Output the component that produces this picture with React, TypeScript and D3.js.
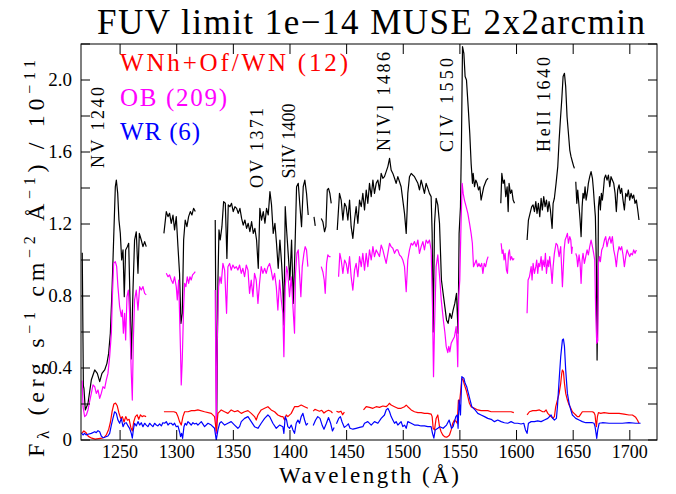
import React from "react";
import * as d3 from "d3";

type P = [number, number];

// ---------- data: [wavelength (Å), flux (1e-11 erg/s/cm2/Å)] ----------
const blackA: P[] = [[1216.6,1.04],[1217.6,0.30],[1218.1,0.287],[1219.3,0.167],[1221.7,0.204],[1224.6,0.333],[1227.6,0.389],[1229.9,0.37],[1232,0.324],[1234,0.37],[1236.4,0.389],[1238.4,0.426],[1239.9,0.481],[1241.4,0.593],[1242.9,0.833],[1244.3,1.111],[1245.8,1.407],[1246.7,1.444],[1247.9,1.37],[1249,1.222],[1250.2,1.148],[1251.4,1.0],[1252.6,1.056],[1253.7,0.796],[1254.9,1.056],[1256.4,1.074],[1257.6,1.093],[1258.7,0.796],[1259.9,0.45],[1261.4,0.833],[1262.8,1.111],[1264.3,1.157],[1265.8,0.926],[1267,1.148],[1268.7,1.111],[1270.2,1.074],[1271.7,1.102],[1273.1,1.074]];
const blackB: P[] = [[1288.7,1.148],[1290.8,1.269],[1292.3,1.241],[1293.7,1.259],[1295.2,1.204],[1296.7,1.25],[1298.1,1.167],[1299.6,1.241],[1301.1,1.074],[1302.5,0.926],[1303.7,0.648],[1304.9,0.704],[1306.1,1.111],[1307.5,1.222],[1309,1.185],[1310.5,1.241],[1312,1.269],[1313.4,1.25],[1314.9,1.287],[1316.4,1.269]];
const blackC: P[] = [[1334.0,1.222],[1335.2,0.04],[1336.4,0.889],[1337.3,1.167],[1338.4,1.111],[1339.9,1.185],[1341.4,1.324],[1342.9,1.315],[1344.3,1.009],[1345.5,1.306],[1347.0,1.296],[1348.4,1.315],[1349.9,1.269],[1351.4,1.296],[1352.9,1.287],[1354.3,1.259],[1355.8,1.287],[1357.3,1.231],[1358.7,1.194],[1360.2,1.222],[1361.7,1.176],[1363.1,1.204],[1364.6,1.157],[1366.1,1.213],[1367.6,1.148],[1369.0,1.176],[1370.5,1.111],[1372.0,0.954],[1373.4,1.287],[1374.9,1.222],[1376.4,1.269],[1377.9,1.204],[1379.3,1.287],[1380.8,1.25],[1382.3,1.38],[1383.7,1.306],[1385.2,1.148],[1386.7,1.204],[1388.1,1.093],[1389.6,0.954],[1391.1,1.111],[1392.6,0.981],[1393.7,0.852],[1394.6,0.639],[1395.8,1.296],[1397.0,1.167],[1398.4,1.037],[1399.9,0.889],[1401.4,1.111],[1402.9,0.759],[1404.3,1.037],[1405.8,1.407],[1407.3,1.426],[1408.7,1.306],[1410.2,1.185],[1411.7,1.407],[1413.1,1.444],[1414.6,1.37],[1416.1,1.25]];
const blackD1: P[] = [[1421.2,1.24],[1422.3,1.19]];
const blackD2: P[] = [[1427.6,1.231],[1429.0,1.213],[1430.5,1.157],[1431.7,1.185],[1432.9,1.389],[1434.0,1.398],[1435.2,1.37],[1436.4,1.315]];
const blackE: P[] = [[1441.7,1.167],[1443.7,1.37],[1445.2,1.333],[1446.7,1.222],[1448.2,1.315],[1449.6,1.296],[1451.1,1.222],[1452.6,1.333],[1454.0,1.185],[1455.5,1.12],[1457.0,1.222],[1458.4,1.296],[1459.9,1.204],[1461.4,1.333],[1462.9,1.296],[1464.3,1.37],[1465.8,1.278],[1467.3,1.389],[1468.7,1.315],[1470.2,1.426],[1471.7,1.352],[1473.2,1.444],[1474.6,1.37],[1476.1,1.426],[1477.6,1.444],[1479.0,1.389],[1480.5,1.481],[1482.0,1.454],[1483.4,1.463],[1484.9,1.491],[1486.4,1.519],[1487.9,1.565],[1489.3,1.5],[1490.8,1.481],[1492.3,1.454],[1493.7,1.426],[1495.2,1.463],[1496.7,1.435],[1498.1,1.407],[1499.6,1.333],[1501.1,1.259],[1502.6,1.148],[1504.0,1.37],[1505.5,1.463],[1507.0,1.481],[1508.4,1.472],[1509.9,1.463],[1511.4,1.444],[1512.9,1.426],[1514.3,1.389],[1515.8,1.444],[1517.3,1.407],[1518.7,1.37],[1520.2,1.426],[1521.7,1.398],[1523.1,1.37],[1524.6,1.352],[1525.5,1.148],[1526.4,0.6],[1527.6,1.204],[1529.0,1.343],[1530.5,1.306],[1532.0,1.204],[1533.7,0.889],[1535.2,0.815],[1536.7,0.741],[1538.2,0.667],[1539.6,0.648],[1541.1,0.704],[1542.6,0.676],[1544.0,0.722],[1545.5,0.759],[1547.0,0.815],[1548.4,0.593],[1549.3,1.148],[1550.5,1.296],[1551.4,1.667],[1552.3,2.185],[1553.5,2.148],[1554.6,2.019],[1555.8,2.0],[1557.3,1.852],[1558.7,1.704],[1559.9,1.537],[1561.1,1.426],[1561.7,1.481],[1562.9,1.407],[1564.0,1.444],[1565.2,1.426],[1566.4,1.389],[1567.6,1.407],[1568.7,1.333],[1569.9,1.37],[1571.1,1.407],[1572.3,1.426],[1573.4,1.444],[1574.9,1.454]];
const blackF: P[] = [[1586.1,1.315],[1587.0,1.481],[1588.2,1.426],[1589.3,1.444],[1590.5,1.352],[1591.7,1.407],[1592.6,1.269],[1593.4,1.426],[1594.6,1.37],[1595.8,1.389],[1597.0,1.333],[1598.2,1.315]];
const blackG: P[] = [[1609.3,1.111],[1610.5,1.222],[1612.3,1.269],[1613.4,1.296],[1614.6,1.306],[1615.8,1.269],[1617.0,1.324],[1618.1,1.259],[1619.3,1.315],[1620.5,1.241],[1621.7,1.343],[1622.8,1.278],[1624.0,1.352],[1625.2,1.296],[1626.4,1.333],[1627.6,1.269],[1628.7,1.324],[1629.9,1.278],[1631.4,1.176],[1632.3,1.315],[1633.4,1.343],[1634.9,1.426],[1636.4,1.519],[1637.6,1.667],[1638.7,1.778],[1639.9,1.889],[1641.1,2.019],[1642.3,2.037],[1643.4,1.963],[1644.6,1.796],[1645.8,1.704],[1647.0,1.611],[1648.1,1.574],[1649.3,1.546],[1650.5,1.519],[1651.1,1.509]];
const blackH: P[] = [[1652.3,1.435],[1653.2,1.315],[1654.0,1.389],[1655.2,1.296],[1656.1,1.222],[1657.0,1.13],[1657.9,1.296],[1658.7,1.37],[1659.6,1.343],[1660.5,1.407],[1661.4,1.333],[1662.6,1.38],[1663.4,1.426],[1664.6,1.463],[1665.8,1.491],[1667.0,1.454],[1667.9,1.389],[1668.7,1.315],[1669.6,1.241],[1670.5,0.963],[1671.1,0.444],[1671.7,0.741],[1672.3,1.296],[1673.2,1.352],[1674.0,1.278],[1674.9,1.37],[1675.8,1.333],[1676.7,1.389],[1677.6,1.454],[1678.7,1.472],[1679.9,1.444],[1681.1,1.472],[1682.3,1.407],[1683.4,1.463],[1684.6,1.444],[1685.8,1.426],[1687.0,1.37],[1688.1,1.269],[1689.3,1.389],[1690.5,1.417],[1691.7,1.37],[1692.8,1.398],[1694.0,1.333],[1695.2,1.278],[1696.4,1.37],[1697.6,1.352],[1698.7,1.389],[1699.9,1.333],[1701.1,1.37],[1702.3,1.343],[1703.4,1.361],[1704.6,1.315],[1705.8,1.333],[1707.0,1.278],[1708.1,1.222]];

const magA: P[] = [[1216.5,0.33],[1217.3,0.185],[1218.7,0.13],[1220.2,0.139],[1221.7,0.167],[1223.1,0.213],[1224.6,0.259],[1226.1,0.306],[1227.6,0.296],[1229.0,0.259],[1230.5,0.278],[1232.0,0.231],[1233.4,0.259],[1234.9,0.296],[1236.4,0.287],[1237.8,0.333],[1239.3,0.37],[1240.8,0.463],[1242.3,0.593],[1243.1,0.778],[1244.3,0.981],[1245.8,0.991],[1247.0,0.963],[1248.1,0.852],[1249.6,0.741],[1251.1,0.685],[1252.0,0.722],[1252.9,0.593],[1254.0,0.704],[1254.9,0.556],[1256.1,0.796],[1257.3,0.833],[1258.4,0.704],[1259.9,0.37],[1260.8,0.222],[1261.7,0.556],[1262.8,0.778],[1264.3,0.833],[1265.8,0.722],[1267.3,0.852],[1268.7,0.833],[1270.2,0.852],[1271.7,0.815],[1273.1,0.806]];
const magB: P[] = [[1290.8,0.926],[1292.3,0.907],[1293.7,0.917],[1295.2,0.889],[1296.7,0.87],[1298.1,0.907],[1299.6,0.852],[1300.5,0.778],[1301.7,0.889],[1302.5,0.704],[1303.4,0.481],[1304.0,0.306],[1304.9,0.444],[1306.1,0.741],[1307.0,0.87],[1308.1,0.852],[1309.3,0.907],[1310.5,0.87],[1311.7,0.907],[1312.8,0.889],[1314.0,0.917],[1315.2,0.926],[1316.4,0.935]];
const magC: P[] = [[1334.0,0.833],[1334.9,0.037],[1335.8,0.556],[1337.0,0.852],[1338.2,0.907],[1339.3,0.87],[1340.8,0.981],[1342.3,0.944],[1344.0,0.704],[1345.2,0.963],[1346.7,0.981],[1348.1,0.944],[1349.6,0.972],[1351.1,0.954],[1352.6,0.963],[1354.0,0.944],[1355.5,0.972],[1357.0,0.926],[1358.4,0.954],[1359.9,0.907],[1361.4,0.972],[1362.9,0.944],[1364.3,0.815],[1365.8,0.889],[1367.3,0.796],[1368.7,0.926],[1370.2,0.889],[1371.7,0.759],[1373.1,0.87],[1374.6,0.963],[1376.1,0.926],[1377.6,0.954],[1379.0,0.926],[1380.5,0.963],[1382.0,0.981],[1383.4,0.944],[1384.9,0.889],[1386.4,0.926],[1387.9,0.852],[1389.3,0.722],[1390.8,0.889],[1392.3,0.778],[1393.7,0.704],[1394.6,0.463],[1395.8,0.852],[1397.0,0.963],[1398.1,0.926],[1399.6,0.796],[1401.1,0.907],[1402.6,0.741],[1404.0,0.593],[1404.9,0.926],[1406.1,1.037],[1407.3,1.056],[1408.4,0.926],[1409.6,0.796],[1410.8,0.963],[1412.3,1.037],[1413.4,1.074],[1414.6,1.056],[1415.8,0.963]];
const magD1: P[] = [[1427.6,0.963],[1429.0,0.935],[1430.2,0.889],[1431.1,0.815],[1432.3,0.981],[1433.4,1.028],[1434.6,1.019],[1435.8,1.019]];
const magD2: P[] = [[1442.9,0.907],[1444.0,1.037],[1445.2,1.0],[1446.7,0.926],[1448.2,1.0],[1449.6,0.981],[1451.1,0.926],[1452.6,1.019],[1454.0,0.907],[1455.5,0.833],[1457.0,0.944],[1458.4,0.981],[1459.9,0.907],[1461.4,1.019],[1462.9,0.963],[1464.3,1.037],[1465.8,0.944],[1467.3,1.037],[1468.7,0.963],[1470.2,1.056],[1471.7,1.0],[1473.2,1.074],[1474.6,1.019],[1476.1,1.056],[1477.6,1.037],[1479.0,1.019],[1480.5,1.083],[1482.0,1.056],[1483.4,1.019],[1484.9,0.981],[1486.4,1.037],[1487.9,1.093],[1489.3,1.074],[1490.8,1.065],[1492.3,1.037],[1493.7,1.056],[1495.2,1.056],[1496.7,1.028],[1498.1,1.019],[1499.6,1.0],[1501.1,0.963],[1502.6,0.824],[1504.0,1.0],[1505.5,1.056],[1507.0,1.093],[1508.4,1.083],[1509.9,1.102],[1511.4,1.074],[1512.9,1.111],[1514.3,1.037],[1515.8,1.074],[1517.3,1.102],[1518.7,1.056],[1520.2,1.111],[1521.7,1.093],[1523.1,1.111],[1524.6,1.056],[1525.8,0.741],[1526.7,0.352],[1527.6,0.63],[1529.0,0.963],[1530.5,1.028],[1532.3,0.889],[1533.5,0.78],[1534.5,0.72],[1535.5,0.66],[1536.7,0.6],[1537.9,0.52],[1539.3,0.485],[1540.2,0.52],[1541.1,0.49],[1542.3,0.537],[1543.7,0.556],[1545.2,0.574],[1546.7,0.63],[1547.6,0.52],[1548.1,0.407],[1549.0,0.8],[1549.9,0.889],[1551.0,1.2],[1552.0,1.426],[1552.9,1.37],[1554.0,1.333],[1555.5,1.296],[1557.0,1.259],[1558.5,1.204],[1559.9,1.148],[1561.0,1.093],[1562.0,0.963],[1563.2,0.981],[1564.4,1.0],[1565.6,0.963],[1566.8,0.981],[1568.0,0.963],[1569.2,0.981],[1570.3,0.926],[1571.5,0.981],[1572.7,0.963],[1573.9,1.0],[1574.9,1.019]];
const magF: P[] = [[1586.4,1.093],[1587.3,1.037],[1588.1,1.056],[1589.0,1.0],[1589.9,1.037],[1591.1,0.944],[1592.0,0.926],[1592.9,1.037],[1593.7,1.056],[1594.6,1.0],[1595.5,1.019],[1596.7,1.0],[1597.9,1.009]];
const magG: P[] = [[1609.3,0.704],[1610.2,0.889],[1611.4,0.907],[1612.9,0.963],[1613.7,0.889],[1614.6,0.981],[1615.8,0.926],[1617.0,0.963],[1617.8,1.0],[1618.7,0.926],[1619.6,0.981],[1620.5,0.963],[1621.7,1.019],[1622.6,0.944],[1623.4,1.0],[1624.6,0.963],[1625.5,1.037],[1626.4,0.926],[1627.6,1.0],[1628.4,0.963],[1629.3,1.019],[1630.5,0.944],[1631.4,0.87],[1632.3,0.963],[1633.4,1.037],[1634.9,1.093],[1636.1,1.083],[1637.6,1.019],[1639.0,1.074],[1640.5,0.852],[1642.0,1.056],[1642.9,1.111],[1644.0,1.13],[1644.9,1.148],[1645.8,1.093],[1647.0,1.13],[1647.9,1.111],[1648.7,1.037],[1649.3,1.074]];
const magH: P[] = [[1652.3,1.037],[1653.2,1.019],[1654.0,0.963],[1655.2,1.028],[1656.1,0.981],[1657.0,0.87],[1657.9,1.0],[1658.7,1.037],[1659.9,0.981],[1661.1,1.019],[1662.3,1.056],[1663.4,1.028],[1664.6,1.074],[1665.8,1.111],[1667.0,1.074],[1668.1,1.037],[1669.0,1.0],[1669.9,0.7],[1670.8,0.537],[1671.7,0.55],[1672.3,0.981],[1673.2,1.019],[1674.0,0.991],[1675.2,1.056],[1676.4,1.074],[1677.6,1.111],[1678.7,1.13],[1679.9,1.074],[1681.1,1.111],[1682.3,1.13],[1683.4,1.093],[1684.6,1.13],[1685.8,1.056],[1687.0,1.019],[1688.1,0.963],[1689.3,1.037],[1690.5,1.074],[1691.7,1.056],[1692.8,1.074],[1694.0,1.028],[1695.2,0.963],[1696.4,1.019],[1697.6,1.056],[1698.7,1.037],[1699.9,1.019],[1701.1,1.037],[1702.3,1.028],[1703.4,1.056],[1704.6,1.037],[1705.8,1.056]];

const redA: P[] = [[1216.5,0.04],[1218,0.05],[1220,0.04],[1222,0.02],[1225,0.01],[1228,0.005],[1231,0.008],[1234,0.01],[1236,0.015],[1238,0.03],[1240,0.06],[1241.5,0.1],[1243,0.16],[1244.5,0.2],[1246,0.205],[1247.5,0.19],[1249,0.15],[1250.5,0.12],[1252,0.13],[1253.5,0.1],[1255,0.13],[1256.5,0.11],[1258,0.115],[1259.5,0.07],[1260.8,0.05],[1262,0.1],[1263.5,0.13],[1265,0.14],[1266.5,0.115],[1268,0.14],[1269.5,0.13],[1271,0.135],[1273,0.13]];
const redB: P[] = [[1288.7,0.157],[1291,0.157],[1294,0.157],[1297.5,0.157],[1299.6,0.152],[1301.1,0.13],[1302.5,0.102],[1304.0,0.083],[1305.5,0.13],[1307,0.157],[1310,0.157],[1313,0.163],[1316,0.163],[1318.7,0.167],[1324.6,0.157],[1330.5,0.148],[1333.4,0.13],[1334.9,0.05],[1336.4,0.148],[1339.3,0.167],[1342.3,0.157],[1345.2,0.148],[1348.1,0.167],[1351.1,0.157],[1354.0,0.163],[1357.0,0.148],[1359.9,0.157],[1362.9,0.163],[1365.8,0.148],[1368.7,0.13],[1370.2,0.111],[1371.7,0.139],[1374.6,0.167],[1377.6,0.176],[1380.5,0.185],[1383.4,0.167],[1386.4,0.157],[1389.3,0.139],[1392.3,0.13],[1393.7,0.13],[1395.2,0.111],[1396.7,0.139],[1398.1,0.13],[1401.1,0.148],[1404.0,0.185],[1407.0,0.185],[1409.9,0.194],[1412.9,0.185],[1415.8,0.176]];
const redC: P[] = [[1420.5,0.16],[1422,0.17],[1424,0.165],[1426,0.16],[1428,0.165],[1430,0.15],[1432,0.16],[1434,0.165],[1436,0.16],[1437.5,0.15]];
const redD: P[] = [[1441,0.16],[1443,0.155],[1445,0.16],[1446.5,0.14],[1448,0.155]];
const redE: P[] = [[1464.9,0.167],[1467.3,0.185],[1470.2,0.181],[1473.2,0.176],[1476.1,0.185],[1479.0,0.181],[1482.0,0.189],[1484.9,0.185],[1486.4,0.194],[1487.9,0.204],[1489.3,0.194],[1492.3,0.185],[1495.2,0.176],[1498.1,0.176],[1501.1,0.185],[1502.6,0.194],[1504.0,0.185],[1507.0,0.167],[1509.9,0.157],[1512.9,0.152],[1515.8,0.152],[1518.7,0.148],[1521.7,0.148],[1524.6,0.144],[1525.5,0.13],[1526.4,0.065],[1527.6,0.056],[1529.0,0.12],[1530.5,0.139],[1532.0,0.074],[1533.4,0.046],[1534.9,0.028],[1536.4,0.019],[1537.9,0.015],[1539.3,0.019],[1540.8,0.028],[1542.3,0.056],[1543.7,0.093],[1545.2,0.111],[1546.7,0.102],[1547.6,0.093],[1548.7,0.222],[1549.6,0.204],[1550.5,0.259],[1551.7,0.343],[1552.9,0.333],[1554.0,0.306],[1555.5,0.278],[1557.0,0.241],[1558.4,0.204],[1559.9,0.185],[1562.9,0.176],[1565.8,0.167],[1568.7,0.163],[1571.7,0.163],[1574.6,0.163],[1577.6,0.157],[1580.5,0.157],[1583.4,0.157],[1586.4,0.157],[1589.3,0.157],[1592.3,0.157],[1595.2,0.157],[1597.6,0.152]];
const redF: P[] = [[1609.3,0.139],[1611.4,0.157],[1614.3,0.163],[1617.3,0.163],[1620.2,0.167],[1623.1,0.157],[1624.6,0.157],[1626.1,0.167],[1627.6,0.148],[1629.0,0.139],[1630.5,0.13],[1632.0,0.12],[1633.4,0.13],[1634.6,0.185],[1636.1,0.222],[1637.6,0.259],[1639.0,0.315],[1639.9,0.37],[1640.5,0.389],[1641.4,0.38],[1642.3,0.315],[1643.4,0.259],[1644.9,0.222],[1646.4,0.194],[1647.9,0.176],[1649.3,0.157],[1650.8,0.148],[1652.3,0.139],[1653.7,0.13],[1655.2,0.13],[1656.7,0.144],[1658.1,0.157],[1661.1,0.157],[1664.0,0.157],[1667.0,0.157],[1668.4,0.152],[1669.3,0.139],[1669.9,0.102],[1670.5,0.074],[1671.4,0.13],[1672.3,0.152],[1674.3,0.148],[1677.3,0.152],[1681.7,0.148],[1686.1,0.148],[1690.5,0.148],[1694.9,0.144],[1699.3,0.139],[1702.3,0.139],[1705.2,0.126],[1706.7,0.111],[1708.1,0.093]];

const blueA: P[] = [[1215.8,0.04],[1217.3,0.028],[1218.7,0.037],[1220.2,0.028],[1221.7,0.032],[1224.6,0.037],[1227.6,0.046],[1229.0,0.041],[1230.5,0.052],[1232.0,0.046],[1233.4,0.022],[1234.9,0.013],[1236.4,0.015],[1239.3,0.022],[1240.8,0.037],[1242.3,0.083],[1243.7,0.12],[1245.2,0.157],[1246.7,0.148],[1248.1,0.111],[1249.6,0.093],[1251.1,0.12],[1252.6,0.074],[1254.0,0.093],[1255.5,0.096],[1257.0,0.078],[1258.4,0.065],[1259.9,0.037],[1260.8,0.01],[1261.7,0.056],[1262.8,0.093],[1264.3,0.078],[1265.8,0.102],[1267.3,0.083],[1268.7,0.096],[1270.2,0.074],[1271.7,0.093],[1273.1,0.083],[1274.6,0.074],[1276.1,0.093],[1277.6,0.083],[1279.0,0.074],[1280.5,0.093],[1282.0,0.083],[1283.4,0.078],[1284.9,0.089],[1286.4,0.078],[1287.8,0.096],[1289.3,0.093],[1290.8,0.102],[1292.3,0.083],[1293.7,0.093],[1295.2,0.093],[1296.7,0.083],[1298.1,0.093],[1299.6,0.074],[1301.1,0.078],[1302.5,0.046],[1303.4,0.019],[1304.3,0.037],[1305.2,0.009],[1306.4,0.074],[1307.5,0.093],[1308.7,0.083],[1309.9,0.102],[1311.4,0.093],[1312.8,0.083],[1314.3,0.096],[1315.8,0.089],[1317.3,0.093],[1318.7,0.083],[1321.7,0.102],[1324.6,0.074],[1327.6,0.093],[1330.5,0.083],[1333.4,0.065],[1334.9,0.0],[1336.4,0.056],[1337.9,0.093],[1339.3,0.102],[1342.3,0.083],[1345.2,0.093],[1348.1,0.102],[1351.1,0.083],[1354.0,0.065],[1355.5,0.074],[1357.0,0.102],[1359.9,0.12],[1362.9,0.13],[1365.8,0.102],[1368.7,0.074],[1371.7,0.065],[1374.6,0.093],[1377.6,0.12],[1380.5,0.139],[1382.0,0.13],[1384.9,0.093],[1387.9,0.065],[1390.8,0.083],[1393.7,0.074],[1394.6,0.037],[1395.8,0.13],[1397.0,0.111],[1398.1,0.074],[1399.6,0.065],[1401.1,0.083],[1402.6,0.056],[1404.0,0.037],[1405.5,0.093],[1407.0,0.111],[1408.4,0.093],[1409.9,0.13],[1411.4,0.148],[1412.9,0.111],[1414.3,0.083],[1415.8,0.093]];
const blueB: P[] = [[1420.5,0.08],[1422.5,0.11],[1424.5,0.13],[1426.5,0.12],[1428.5,0.08],[1430,0.06],[1432,0.09],[1434,0.125],[1436,0.09],[1437.5,0.05],[1439,0.07]];
const blueC: P[] = [[1441,0.09],[1443,0.12],[1444.5,0.13],[1446,0.1],[1448,0.07],[1450,0.08],[1451.5,0.09],[1453.0,0.065],[1455.5,0.06],[1458.4,0.065],[1461.4,0.07],[1464.3,0.074],[1465.8,0.093],[1468.7,0.102],[1471.7,0.083],[1474.6,0.102],[1477.6,0.093],[1480.5,0.12],[1483.4,0.139],[1484.9,0.167],[1486.4,0.176],[1487.9,0.157],[1489.3,0.13],[1490.8,0.111],[1492.3,0.093],[1493.7,0.102],[1495.2,0.083],[1496.7,0.093],[1498.1,0.102],[1499.6,0.074],[1501.1,0.083],[1502.6,0.065],[1504.0,0.102],[1507.0,0.093],[1509.9,0.083],[1512.9,0.083],[1515.8,0.078],[1518.7,0.078],[1521.7,0.074],[1524.6,0.074],[1525.8,0.037],[1527.0,0.01],[1528.2,0.056],[1530.5,0.065],[1532.3,0.074],[1535.2,0.065],[1538.2,0.083],[1540.5,0.111],[1542.6,0.065],[1544.0,0.074],[1546.4,0.13],[1547.6,0.139],[1548.4,0.065],[1549.3,0.222],[1550.5,0.139],[1551.7,0.352],[1553.5,0.343],[1554.6,0.315],[1556.0,0.296],[1557.5,0.259],[1559.0,0.222],[1560.5,0.185],[1562.0,0.176],[1563.4,0.167],[1565.8,0.148],[1568.7,0.139],[1571.7,0.13],[1574.6,0.12],[1577.6,0.115],[1580.5,0.102],[1583.4,0.111],[1586.4,0.102],[1589.3,0.096],[1592.3,0.093],[1595.2,0.102],[1598.1,0.093],[1601.1,0.093],[1604.0,0.089],[1606.4,0.093],[1607.9,0.056],[1609.3,0.037],[1610.5,0.093],[1612.9,0.102],[1615.8,0.102],[1618.7,0.106],[1621.7,0.102],[1624.6,0.111],[1627.6,0.12],[1630.5,0.139],[1632.0,0.12],[1633.4,0.111],[1635.2,0.12],[1636.1,0.185],[1637.6,0.333],[1639.0,0.463],[1640.5,0.556],[1641.4,0.561],[1642.3,0.52],[1643.4,0.389],[1644.9,0.259],[1646.4,0.204],[1647.9,0.167],[1649.3,0.139],[1650.8,0.13],[1652.3,0.12],[1655.2,0.111],[1658.1,0.102],[1661.1,0.096],[1664.0,0.096],[1667.0,0.096],[1668.4,0.093],[1669.3,0.074],[1670.2,0.037],[1670.8,0.009],[1671.7,0.056],[1672.9,0.093],[1675.8,0.096],[1681.7,0.093],[1687.6,0.093],[1693.4,0.093],[1699.3,0.096],[1705.2,0.093],[1709.5,0.093]];

const blackSegments = [blackA, blackB, blackC, blackD1, blackD2, blackE, blackF, blackG, blackH];
const magentaSegments = [magA, magB, magC, magD1, magD2, magF, magG, magH];
const redSegments = [redA, redB, redC, redD, redE, redF];
const blueSegments = [blueA, blueB, blueC];

const xTicks = [1250, 1300, 1350, 1400, 1450, 1500, 1550, 1600, 1650, 1700];
const yLabelTicks = [0, 0.4, 0.8, 1.2, 1.6, 2.0];
const yTickLabels = ["0", "0.4", "0.8", "1.2", "1.6", "2.0"];
const yMinorTicks = [0.2, 0.6, 1.0, 1.4, 1.8, 2.2];

const legendNames = ["WNh+Of/WN (12)", "OB (209)", "WR (6)"];
const legendColors = ["#ff0000", "#ff00ff", "#0000ff"];

// line labels: text, wavelength of baseline, flux at text start (bottom), text length
const lineLabelText = ["NV 1240", "OV 1371", "SiIV 1400", "NIV] 1486", "CIV 1550", "HeII 1640"];
const lineLabelWave = [1235.4, 1376.1, 1404.3, 1488.1, 1543.9, 1629.3];
const lineLabelFlux = [1.511, 1.4, 1.453, 1.606, 1.6, 1.6];
const lineLabelLen = [81, 80, 75, 99, 94, 95];

const FONT = "'Liberation Serif', 'Times New Roman', serif";

export default function App() {
  const x = d3.scaleLinear().domain([1215.5, 1724]).range([81, 657]);
  const y = d3.scaleLinear().domain([0, 2.2]).range([440, 44]);
  const line = d3.line<P>().x((d) => x(d[0])).y((d) => y(d[1]));

  const series: { segs: P[][]; color: string }[] = [
    { segs: blackSegments, color: "#000000" },
    { segs: magentaSegments, color: "#ff00ff" },
    { segs: redSegments, color: "#ff0000" },
    { segs: blueSegments, color: "#0000ff" },
  ];

  const allY = [...yLabelTicks, ...yMinorTicks];

  return (
    <svg width={676} height={494} style={{ position: "absolute", left: 0, top: 0, background: "#fff" }}>
      <rect x={0} y={0} width={676} height={494} fill="#fff" />
      <defs>
        <clipPath id="plotclip">
          <rect x={81} y={44} width={576} height={396} />
        </clipPath>
      </defs>
      <text x={97} y={34} fontFamily={FONT} fontSize={35} textLength={548} lengthAdjust="spacing" fill="#000">
        FUV limit 1e−14 MUSE 2x2arcmin
      </text>

      <g clipPath="url(#plotclip)" fill="none" strokeWidth={1.2} strokeLinejoin="round">
        {series.map((s, i) => (
          <g key={i} stroke={s.color}>
            {s.segs.map((seg, j) => (
              <path key={j} d={line(seg) || ""} />
            ))}
          </g>
        ))}
      </g>

      {/* frame */}
      <rect x={81} y={44} width={576} height={396} fill="none" stroke="#000" strokeWidth={1} />
      {xTicks.map((t) => (
        <g key={t} stroke="#000" strokeWidth={1}>
          <line x1={x(t)} x2={x(t)} y1={440} y2={430} />
          <line x1={x(t)} x2={x(t)} y1={44} y2={54} />
        </g>
      ))}
      {allY.map((t) => (
        <g key={t} stroke="#000" strokeWidth={1}>
          <line x1={81} x2={90} y1={y(t)} y2={y(t)} />
          <line x1={657} x2={648} y1={y(t)} y2={y(t)} />
        </g>
      ))}
      {xTicks.map((t) => (
        <text key={t} x={x(t)} y={458} textAnchor="middle" fontFamily={FONT} fontSize={18} fill="#000">
          {t}
        </text>
      ))}
      {yLabelTicks.map((t, i) => (
        <text key={t} x={72} y={y(t) + 6} textAnchor="end" fontFamily={FONT} fontSize={19} fill="#000">
          {yTickLabels[i]}
        </text>
      ))}

      <text x={279} y={483} fontFamily={FONT} fontSize={23} textLength={180} lengthAdjust="spacing" fill="#000">
        Wavelength (Å)
      </text>

      <text transform="translate(44,457) rotate(-90)" fontFamily={FONT} fontSize={24} textLength={397} lengthAdjust="spacing" fill="#000">
        F<tspan dy={5} fontSize={17}>λ</tspan>
        <tspan dy={-5}> (erg s</tspan>
        <tspan dy={-9} fontSize={16}>−1</tspan>
        <tspan dy={9}> cm</tspan>
        <tspan dy={-9} fontSize={16}>−2</tspan>
        <tspan dy={9}> Å</tspan>
        <tspan dy={-9} fontSize={16}>−1</tspan>
        <tspan dy={9}>) / 10</tspan>
        <tspan dy={-9} fontSize={16}>−11</tspan>
      </text>

      {legendNames.map((n, i) => (
        <text key={n} x={120} y={71 + i * 34.5} fontFamily={FONT} fontSize={25} fill={legendColors[i]}
          textLength={[228, 107, 80][i]} lengthAdjust="spacing">
          {n}
        </text>
      ))}

      {lineLabelText.map((t, i) => (
        <text key={t} transform={`translate(${x(lineLabelWave[i])},${y(lineLabelFlux[i])}) rotate(-90)`}
          fontFamily={FONT} fontSize={18} fill="#000" textLength={lineLabelLen[i]} lengthAdjust="spacing">
          {t}
        </text>
      ))}
    </svg>
  );
}
